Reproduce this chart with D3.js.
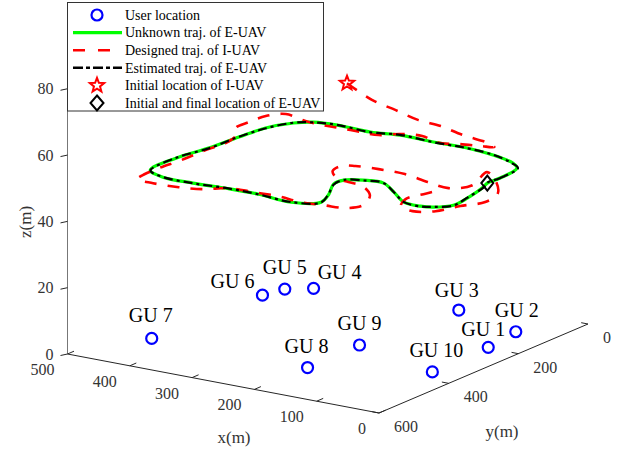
<!DOCTYPE html>
<html>
<head>
<meta charset="utf-8">
<script src="https://cdn.jsdelivr.net/npm/d3@7"></script>
<style>
body { margin: 0; background: #fff; }
svg { display: block; }
text { font-family: "Liberation Serif", "Times New Roman", serif; }
</style>
</head>
<body>
<div id="chart"></div>
<script>
// ground users, all at z = 0
const guNames = ["GU 1", "GU 2", "GU 3", "GU 4", "GU 5", "GU 6", "GU 7", "GU 8", "GU 9", "GU 10"];
const guX = [50, 60, 180, 398, 428, 437, 447, 198, 199, 48];
const guY = [197, 100, 49, 76, 105, 153, 453, 451, 300, 361];

// unknown E-UAV loop (flies at z = 50), starts/ends at the diamond
const euX = [47, 46, 53, 71, 114, 161, 214, 269, 310, 365, 399, 419, 437, 443, 448, 458, 455, 423, 374, 324, 272, 215, 182, 194, 215, 214, 192, 162, 127, 90, 61, 44, 27, 30, 41];
const euY = [205, 170, 109, 89, 69, 59, 61, 58, 70, 67, 74, 96, 144, 210, 288, 364, 443, 464, 465, 460, 459, 468, 441, 397, 346, 318, 301, 297, 330, 368, 372, 365, 338, 293, 227];
const euZ = 50;

// estimated E-UAV loop
const estX = [48, 46, 52, 72, 113, 162, 213, 270, 309, 366, 398, 420, 436, 444, 447, 459, 454, 424, 373, 325, 271, 216, 181, 195, 214, 215, 191, 163, 126, 91, 60, 45, 26, 31, 40];
const estY = [204, 171, 108, 90, 68, 60, 62, 57, 71, 66, 75, 95, 145, 209, 289, 363, 444, 463, 466, 459, 460, 467, 442, 396, 347, 317, 302, 296, 331, 367, 373, 364, 339, 292, 228];

// designed I-UAV path, starting at the star
const iuX = [204, 175, 166, 158, 161, 156, 151, 133, 152, 179, 204, 242, 272, 293, 321, 354, 382, 411, 451, 468, 471, 470, 451, 442, 446, 447, 451, 450, 446, 418, 379, 346, 321, 283, 245, 204, 171, 137, 128, 146, 178, 204, 227, 250, 254, 238, 204, 162, 116, 77, 58, 76, 40, 7, 0, 17, 31, 57, 83, 96, 89, 81];
const iuY = [327, 306, 255, 204, 135, 80, 17, 31, 38, 47, 60, 43, 53, 77, 79, 78, 80, 76, 61, 88, 131, 171, 203, 250, 300, 369, 425, 479, 496, 501, 497, 484, 457, 454, 451, 459, 453, 445, 412, 365, 329, 323, 315, 286, 255, 242, 236, 236, 253, 263, 228, 154, 192, 247, 295, 336, 382, 402, 389, 352, 313, 279];
const iuZ = [80, 75, 70, 65, 60, 55, 50, 50, 50, 50, 50, 50, 50, 50, 50, 50, 50, 50, 50, 50, 50, 50, 50, 50, 50, 50, 50, 50, 50, 50, 50, 50, 50, 50, 50, 50, 50, 50, 50, 50, 50, 50, 50, 50, 50, 50, 50, 50, 50, 50, 50, 50, 50, 50, 50, 50, 50, 50, 50, 50, 50, 50];

const xTicks = [0, 100, 200, 300, 400, 500];
const yTicks = [0, 200, 400, 600];
const zTicks = [0, 20, 40, 60, 80];

const legendLabels = ["User location", "Unknown traj. of E-UAV", "Designed traj. of I-UAV",
    "Estimated traj. of E-UAV", "Initial location of I-UAV", "Initial and final location of E-UAV"];

const W = 621, H = 453;
const svg = d3.select("#chart").append("svg").attr("width", W).attr("height", H);

// fixed 3d view: each axis is a linear scale onto a screen vector
const origin = [588, 324];
const xVec = d3.scaleLinear().domain([0, 500]).range([[0, 0], [-311.5, -59]]);
const yVec = d3.scaleLinear().domain([0, 600]).range([[0, 0], [-209, 89]]);
const zPix = d3.scaleLinear().domain([0, 90]).range([0, -298.4]);
function P(x, y, z) {
    let a = xVec(x), b = yVec(y);
    return [origin[0] + a[0] + b[0], origin[1] + a[1] + b[1] + zPix(z)];
}

let axisColor = "#262626";
let ax = svg.append("g");
function seg(p, q, col) {
    ax.append("line").attr("x1", p[0]).attr("y1", p[1]).attr("x2", q[0]).attr("y2", q[1])
        .attr("stroke", col || axisColor).attr("stroke-width", 1);
}
seg(P(0, 600, 0), P(500, 600, 0));
seg(P(0, 0, 0), P(0, 600, 0));
seg(P(500, 600, 0), P(500, 600, 90), "#777");

// ticks + labels
xTicks.forEach(t => {
    let p = P(t, 600, 0);
    seg(p, [p[0] + 6.5, p[1] - 2.8]);
    ax.append("text").attr("x", p[0] - 13).attr("y", p[1] + 21).attr("text-anchor", "end")
        .attr("font-size", 16).attr("fill", "#333").text(t);
});
yTicks.forEach(t => {
    let p = P(0, t, 0);
    seg(p, [p[0] - 6.8, p[1] - 1.3]);
    ax.append("text").attr("x", p[0] + 15).attr("y", p[1] + 19).attr("text-anchor", "start")
        .attr("font-size", 16).attr("fill", "#333").text(t);
});
zTicks.forEach(t => {
    let p = P(500, 600, t);
    seg(p, [p[0] - 7, p[1] + 1.5]);
    ax.append("text").attr("x", p[0] - 14).attr("y", p[1] + 5.5).attr("text-anchor", "end")
        .attr("font-size", 16).attr("fill", "#333").text(t);
});
ax.append("text").attr("x", 234).attr("y", 443).attr("text-anchor", "middle")
    .attr("font-size", 17).attr("fill", "#333").text("x(m)");
ax.append("text").attr("x", 502).attr("y", 437).attr("text-anchor", "middle")
    .attr("font-size", 17).attr("fill", "#333").text("y(m)");
ax.append("text").attr("transform", "translate(31,222) rotate(-90)").attr("text-anchor", "middle")
    .attr("font-size", 17).attr("fill", "#333").text("z(m)");

// ground users
let gu = guX.map((x, i) => ({name: guNames[i], p: P(x, guY[i], 0)}));
// label nudges in pixels (layout only)
const labelNudge = [[-5, -11], [1, -15], [-2, -13], [26, -9], [0, -15], [-30, -7], [-1, -16], [-1, -15], [0, -15], [4, -15]];
svg.append("g").selectAll("circle").data(gu).enter().append("circle")
    .attr("cx", d => d.p[0]).attr("cy", d => d.p[1]).attr("r", 5.5)
    .attr("fill", "none").attr("stroke", "#0000ff").attr("stroke-width", 2.2);
svg.append("g").selectAll("text").data(gu).enter().append("text")
    .attr("x", (d, i) => d.p[0] + labelNudge[i][0]).attr("y", (d, i) => d.p[1] + labelNudge[i][1])
    .attr("text-anchor", "middle").attr("font-size", 20).attr("fill", "#000").text(d => d.name);

// trajectories
let closed = d3.line().curve(d3.curveCatmullRomClosed.alpha(0.5));
let open = d3.line().curve(d3.curveCatmullRom.alpha(0.5));
let euPts = euX.map((x, i) => P(x, euY[i], euZ));
let estPts = estX.map((x, i) => P(x, estY[i], euZ));
let iuPts = iuX.map((x, i) => P(x, iuY[i], iuZ[i]));

svg.append("path").attr("d", closed(euPts)).attr("fill", "none")
    .attr("stroke", "#00ff00").attr("stroke-width", 3.2);
svg.append("path").attr("d", open(iuPts)).attr("fill", "none")
    .attr("stroke", "#ff0000").attr("stroke-width", 2.6).attr("stroke-dasharray", "12,11");
svg.append("path").attr("d", closed(estPts)).attr("fill", "none")
    .attr("stroke", "#000").attr("stroke-width", 2.2).attr("stroke-dasharray", "9,4,3,4");

function starPath(cx, cy, R, r) {
    let pts = [];
    for (let i = 0; i < 10; i++) {
        let a = -Math.PI / 2 + i * Math.PI / 5;
        let rad = i % 2 ? r : R;
        pts.push([cx + rad * Math.cos(a), cy + rad * Math.sin(a)]);
    }
    return "M" + pts.map(p => p.join(",")).join("L") + "Z";
}
function diamondPath(cx, cy, w, h) {
    return `M${cx},${cy - h}L${cx + w},${cy}L${cx},${cy + h}L${cx - w},${cy}Z`;
}
let s0 = iuPts[0];
svg.append("path").attr("d", starPath(s0[0], s0[1], 7.5, 3.2)).attr("fill", "none")
    .attr("stroke", "#ff0000").attr("stroke-width", 2);
let d0 = euPts[0];
svg.append("path").attr("d", diamondPath(d0[0], d0[1], 6, 7.5)).attr("fill", "none")
    .attr("stroke", "#000").attr("stroke-width", 2);

// legend
let lg = svg.append("g");
lg.append("rect").attr("x", 67.5).attr("y", 2.5).attr("width", 256).attr("height", 108.5)
    .attr("fill", "#fff").attr("stroke", "#333").attr("stroke-width", 1);
let rowY = d3.scaleLinear().domain([0, 5]).range([15, 103]);
legendLabels.forEach((lab, i) => {
    let y = rowY(i);
    lg.append("text").attr("x", 125).attr("y", y + 4.8).attr("font-size", 14).attr("fill", "#000").text(lab);
});
lg.append("circle").attr("cx", 97).attr("cy", rowY(0)).attr("r", 5.5)
    .attr("fill", "none").attr("stroke", "#0000ff").attr("stroke-width", 2.2);
lg.append("line").attr("x1", 73).attr("x2", 122).attr("y1", rowY(1)).attr("y2", rowY(1))
    .attr("stroke", "#00ff00").attr("stroke-width", 3.2);
lg.append("line").attr("x1", 73).attr("x2", 122).attr("y1", rowY(2)).attr("y2", rowY(2))
    .attr("stroke", "#ff0000").attr("stroke-width", 2.6).attr("stroke-dasharray", "12,13");
lg.append("line").attr("x1", 73).attr("x2", 122).attr("y1", rowY(3)).attr("y2", rowY(3))
    .attr("stroke", "#000").attr("stroke-width", 2.6).attr("stroke-dasharray", "10,3,4,3");
lg.append("path").attr("d", starPath(97, rowY(4), 7.5, 3.2)).attr("fill", "none")
    .attr("stroke", "#ff0000").attr("stroke-width", 2);
lg.append("path").attr("d", diamondPath(97, rowY(5), 6.5, 7.5)).attr("fill", "none")
    .attr("stroke", "#000").attr("stroke-width", 2);
</script>
</body>
</html>
